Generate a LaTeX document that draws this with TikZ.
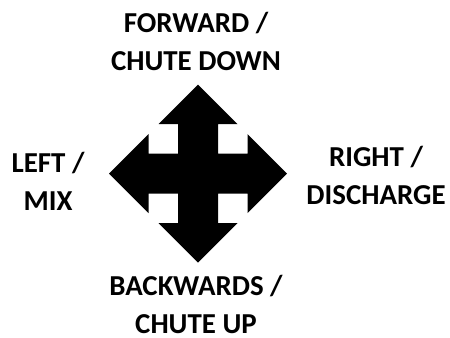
\documentclass[tikz,border=0pt]{standalone}
\usepackage{fontspec}
\setmainfont{Carlito}
\begin{document}
\begin{tikzpicture}[x=1bp,y=-1bp,
  lbl/.style={font=\bfseries\fontsize{29}{38}\selectfont, align=center, anchor=base, inner sep=0pt}]
\useasboundingbox (0,0) rectangle (450,337);
\coordinate (c) at (198,173.5);
\begin{scope}[shift={(c)}]
\fill[black] (0,-89) -- (39.5,-49.5) -- (20,-49.5) -- (20,-20) -- (49.5,-20) -- (49.5,-39.5)
  -- (89,0) -- (49.5,39.5) -- (49.5,20) -- (20,20) -- (20,49.5) -- (39.5,49.5)
  -- (0,89) -- (-39.5,49.5) -- (-20,49.5) -- (-20,20) -- (-49.5,20) -- (-49.5,39.5)
  -- (-89,0) -- (-49.5,-39.5) -- (-49.5,-20) -- (-20,-20) -- (-20,-49.5) -- (-39.5,-49.5) -- cycle;
\end{scope}
\node[lbl] (fwd) at (196,70.5) {FORWARD /\\CHUTE DOWN};
\node[lbl] (left) at (48,210) {LEFT /\\MIX};
\node[lbl] (right) at (376,204.5) {RIGHT /\\DISCHARGE};
\node[lbl] (back) at (196,333) {BACKWARDS /\\CHUTE UP};
\end{tikzpicture}
\end{document}
